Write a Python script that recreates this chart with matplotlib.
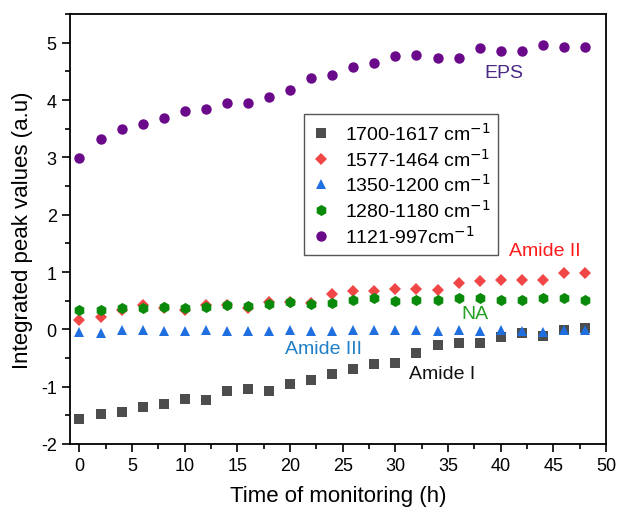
import matplotlib
matplotlib.use("Agg")
import matplotlib.pyplot as plt
from matplotlib.ticker import MultipleLocator

plt.rcParams["font.family"] = ["Liberation Sans", "DejaVu Sans"]
plt.rcParams["axes.unicode_minus"] = False

# ── Data ───────────────────────────────────────────────────────
time_h = [0, 2, 4, 6, 8, 10, 12, 14, 16, 18, 20, 22, 24,
          26, 28, 30, 32, 34, 36, 38, 40, 42, 44, 46, 48]

amide_1 = [-1.57, -1.47, -1.45, -1.35, -1.30, -1.21, -1.23, -1.08, -1.04, -1.07,
           -0.95, -0.89, -0.78, -0.69, -0.60, -0.59, -0.41, -0.27, -0.23, -0.24,
           -0.14, -0.06, -0.11, -0.01, 0.02]
amide_2 = [0.17, 0.22, 0.34, 0.42, 0.37, 0.34, 0.43, 0.42, 0.37, 0.47,
           0.48, 0.46, 0.61, 0.66, 0.67, 0.71, 0.71, 0.68, 0.81, 0.84,
           0.86, 0.86, 0.86, 0.99, 0.99]
amide_3 = [-0.04, -0.06, -0.02, -0.02, -0.03, -0.03, -0.02, -0.03, -0.03, -0.03,
           -0.02, -0.03, -0.03, -0.01, -0.02, -0.02, -0.02, -0.03, -0.02, -0.03,
           -0.02, -0.03, -0.05, -0.01, -0.01]
na_band = [0.34, 0.34, 0.37, 0.38, 0.39, 0.38, 0.39, 0.43, 0.41, 0.44,
           0.48, 0.45, 0.46, 0.51, 0.54, 0.49, 0.52, 0.52, 0.55, 0.54,
           0.51, 0.52, 0.55, 0.54, 0.52]
eps = [2.98, 3.32, 3.49, 3.58, 3.69, 3.80, 3.84, 3.95, 3.95, 4.05,
       4.17, 4.39, 4.43, 4.57, 4.64, 4.77, 4.79, 4.73, 4.73, 4.90,
       4.85, 4.86, 4.96, 4.93, 4.93]

# (values, legend label, marker, colour, size)
SERIES = [
    (amide_1, "1700-1617 cm$^{−1}$", "s", "#4d4d4d", 6.5),
    (amide_2, "1577-1464 cm$^{−1}$", "D", "#f04646", 6.0),
    (amide_3, "1350-1200 cm$^{−1}$", "^", "#1f6fe0", 7.5),
    (na_band, "1280-1180 cm$^{−1}$", "h", "#0a8a0a", 8.0),
    (eps, "1121-997cm$^{−1}$", "o", "#6a0a8a", 7.5),
]

# (text, x, y, colour)
ANNOTATIONS = [
    ("EPS", 40.3, 4.48, "#4b2a86"),
    ("Amide II", 44.2, 1.38, "#ff1a1a"),
    ("NA", 37.6, 0.27, "#22a022"),
    ("Amide III", 23.2, -0.33, "#1f7fc8"),
    ("Amide I", 34.4, -0.77, "#111111"),
]


def main():
    fig = plt.figure(figsize=(6.17, 5.10), dpi=100)
    ax = fig.add_axes([70 / 617, 65 / 510, 536 / 617, 430 / 510])

    for vals, label, marker, color, ms in SERIES:
        ax.plot(time_h, vals, linestyle="none", marker=marker, color=color,
                markersize=ms, markeredgewidth=0, label=label)

    for text, x, y, color in ANNOTATIONS:
        ax.text(x, y, text, color=color, fontsize=14, ha="center", va="center")

    ax.set_xlim(-0.9, 50)
    ax.set_ylim(-2, 5.5)
    ax.xaxis.set_major_locator(MultipleLocator(5))
    ax.xaxis.set_minor_locator(MultipleLocator(2.5))
    ax.yaxis.set_major_locator(MultipleLocator(1))
    ax.yaxis.set_minor_locator(MultipleLocator(0.5))
    ax.tick_params(which="major", direction="out", length=6, width=1.2,
                   labelsize=13, top=False, right=False)
    ax.tick_params(which="minor", direction="out", length=3.5, width=1.2,
                   top=False, right=False)
    for sp in ax.spines.values():
        sp.set_linewidth(1.3)

    ax.set_xlabel("Time of monitoring (h)", fontsize=16, labelpad=8)
    ax.set_ylabel("Integrated peak values (a.u)", fontsize=16, labelpad=6)

    leg = ax.legend(loc="upper left", bbox_to_anchor=(0.418, 0.79),
                    fontsize=14, frameon=True, fancybox=False,
                    edgecolor="#555555", framealpha=1, markerscale=1.0,
                    handlelength=1.0, handletextpad=0.7, borderpad=0.4,
                    labelspacing=0.2)
    leg.get_frame().set_linewidth(1.0)

    fig.savefig("out.png", dpi=100)
    plt.close(fig)


if __name__ == "__main__":
    main()
